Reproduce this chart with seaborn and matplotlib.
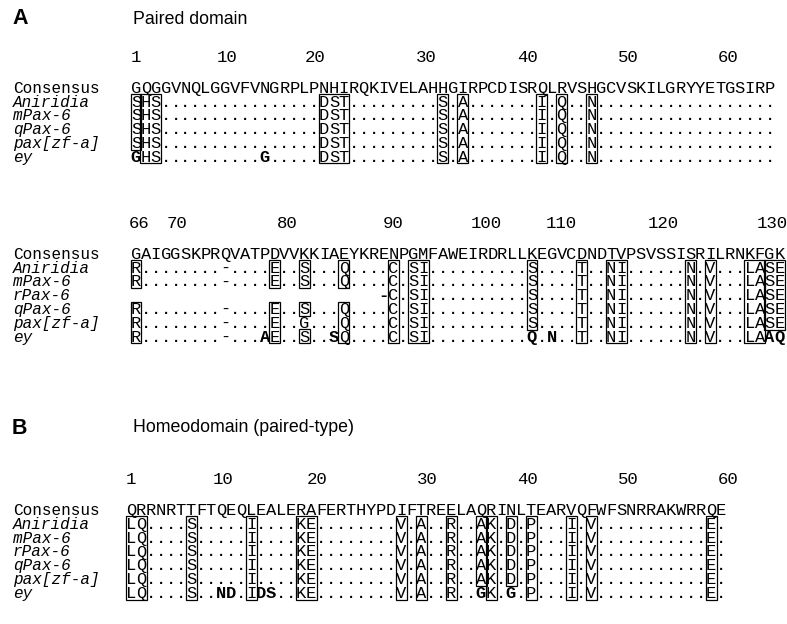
import matplotlib
matplotlib.use("Agg")
import matplotlib.pyplot as plt
from matplotlib.patches import Rectangle
import seaborn as sns

# ---------------- data ----------------
panel_titles = ["Paired domain", "Homeodomain (paired-type)"]
panel_letters = ["A", "B"]

# Paired domain, residues 1-65
pd1_numbers = ["1", "10", "20", "30", "40", "50", "60"]
pd1_species = ["Aniridia", "mPax-6", "qPax-6", "pax[zf-a]", "ey"]
pd1_consensus = "GQGGVNQLGGVFVNGRPLPNHIRQKIVELAHHGIRPCDISRQLRVSHGCVSKILGRYYETGSIRP"
pd1_rows = [
    "SHS................DST.........S.A.......I.Q..N..................",
    "SHS................DST.........S.A.......I.Q..N..................",
    "SHS................DST.........S.A.......I.Q..N..................",
    "SHS................DST.........S.A.......I.Q..N..................",
    "GHS..........G.....DST.........S.A.......I.Q..N..................",
]

# Paired domain, residues 66-130
pd2_numbers = ["66", "70", "80", "90", "100", "110", "120", "130"]
pd2_species = ["Aniridia", "mPax-6", "rPax-6", "qPax-6", "pax[zf-a]", "ey"]
pd2_consensus = "GAIGGSKPRQVATPDVVKKIAEYKRENPGMFAWEIRDRLLKEGVCDNDTVPSVSSISRILRNKFGK"
pd2_rows = [
    "R........-....E..S...Q....C.SI..........S....T..NI......N.V...LASE",
    "R........-....E..S...Q....C.SI..........S....T..NI......N.V...LASE",
    "                         -C.SI..........S....T..NI......N.V...LASE",
    "R........-....E..S...Q....C.SI..........S....T..NI......N.V...LASE",
    "R........-....E..G...Q....C.SI..........S....T..NI......N.V...LASE",
    "R........-...AE..S..SQ....C.SI..........Q.N..T..NI......N.V...LAAQ",
]

# Homeodomain, residues 1-60
hd_numbers = ["1", "10", "20", "30", "40", "50", "60"]
hd_species = ["Aniridia", "mPax-6", "rPax-6", "qPax-6", "pax[zf-a]", "ey"]
hd_consensus = "QRRNRTTFTQEQLEALERAFERTHYPDIFTREELAQRINLTEARVQFWFSNRRAKWRRQE"
hd_rows = [
    "LQ....S.....I....KE........V.A..R..AK.D.P...I.V...........E.",
    "LQ....S.....I....KE........V.A..R..AK.D.P...I.V...........E.",
    "LQ....S.....I....KE........V.A..R..AK.D.P...I.V...........E.",
    "LQ....S.....I....KE........V.A..R..AK.D.P...I.V...........E.",
    "LQ....S.....I....KE........V.A..R..AK.D.P...I.V...........E.",
    "LQ....S..ND.IDS..KE........V.A..R..GK.G.P...I.V...........E.",
]

# ---------------- layout ----------------
blocks = [
    dict(numbers=pd1_numbers, species=pd1_species, consensus=pd1_consensus,
         rows=pd1_rows, x0=131.0, cw=9.9, y_num=57, y_cons=88, dy=13.8,
         num_cols=[0, 9.2, 18.1, 29.3, 39.6, 49.7, 59.8]),
    dict(numbers=pd2_numbers, species=pd2_species, consensus=pd2_consensus,
         rows=pd2_rows, x0=131.0, cw=9.9, y_num=223, y_cons=254, dy=13.8,
         num_cols=[0.3, 4.1, 15.3, 26.0, 35.4, 43.0, 53.3, 64.3]),
    dict(numbers=hd_numbers, species=hd_species, consensus=hd_consensus,
         rows=hd_rows, x0=126.0, cw=10.0, y_num=479, y_cons=510, dy=13.9,
         num_cols=[0.0, 9.2, 18.6, 29.6, 39.7, 49.7, 59.7]),
]
title_pos = [(12, 18, 133, 20), (12, 428, 133, 428)]

sns.set_theme(style="white")
plt.rcParams["font.family"] = ["Liberation Mono", "DejaVu Sans Mono"]

MONO = "Liberation Mono"
SANS = "Liberation Sans"

fig = plt.figure(figsize=(7.87, 6.24), dpi=100)
ax = fig.add_axes([0, 0, 1, 1])
ax.set_xlim(0, 787)
ax.set_ylim(624, 0)
ax.axis("off")

# titles
for letter, title, (lx, ly, tx, ty) in zip(panel_letters, panel_titles, title_pos):
    ax.text(lx, ly, letter, family=SANS, fontweight="bold", fontsize=15.5,
            va="center", ha="left", color="black")
    ax.text(tx, ty, title, family=SANS, fontsize=12.8, va="center",
            ha="left", color="black")


def find_boxes(rows):
    ref = rows[0]
    ncol = len(ref)
    boxed = [[(r[c].isalpha() and ref[c].isalpha() and r[c] == ref[c])
              for c in range(ncol)] for r in rows]
    boxes = []
    active = {}
    for c in range(ncol):
        runs = []
        r = 0
        while r < len(rows):
            if boxed[r][c]:
                r0 = r
                while r + 1 < len(rows) and boxed[r + 1][c]:
                    r += 1
                runs.append((r0, r))
            r += 1
        new_active = {}
        for run in runs:
            new_active[run] = active.get(run, c)
        for run, start in active.items():
            if run not in new_active:
                boxes.append((start, c - 1, run[0], run[1]))
        active = new_active
    for run, start in active.items():
        boxes.append((start, ncol - 1, run[0], run[1]))
    return boxed, boxes


for b in blocks:
    x0, cw, dy = b["x0"], b["cw"], b["dy"]
    yc = b["y_cons"]
    base = 4.8  # baseline offset below row centre

    # numbering
    for lab, col in zip(b["numbers"], b["num_cols"]):
        ax.text(x0 + (col + 0.5) * cw, b["y_num"] + base, lab, family=MONO,
                fontsize=12.5, ha="center", va="baseline", color="black")

    # labels
    ax.text(13, yc + base, "Consensus", family=MONO, fontsize=11.5,
            ha="left", va="baseline", color="black")
    for i, sp in enumerate(b["species"]):
        ax.text(13, yc + (i + 1) * dy + base, sp, family=MONO, style="italic",
                fontsize=11.5, ha="left", va="baseline", color="black")

    # consensus letters
    for c, ch in enumerate(b["consensus"]):
        ax.text(x0 + (c + 0.5) * cw, yc + base, ch, family=MONO, fontsize=12.3,
                ha="center", va="baseline", color="black")

    boxed, boxes = find_boxes(b["rows"])
    nrow = len(b["rows"])
    for r, row in enumerate(b["rows"]):
        y = yc + (r + 1) * dy
        first = len(row) - len(row.lstrip(" "))
        for c, ch in enumerate(row):
            if ch == " ":
                continue
            bold = (r == nrow - 1 and ch.isalpha() and not boxed[r][c]) or \
                   (ch == "-" and c == first)
            ax.text(x0 + (c + 0.5) * cw, y + base, ch, family=MONO,
                    fontsize=12.3, fontweight="bold" if bold else "normal",
                    ha="center", va="baseline", color="black")

    for c0, c1, r0, r1 in boxes:
        left = x0 + c0 * cw - 0.5
        right = x0 + (c1 + 1) * cw + 0.5
        top = yc + (r0 + 1) * dy - 7.5
        bottom = yc + (r1 + 1) * dy + 6.5
        ax.add_patch(Rectangle((left, top), right - left, bottom - top,
                               fill=False, edgecolor="black", linewidth=0.9))

fig.savefig("out.png", dpi=100, facecolor="white")
